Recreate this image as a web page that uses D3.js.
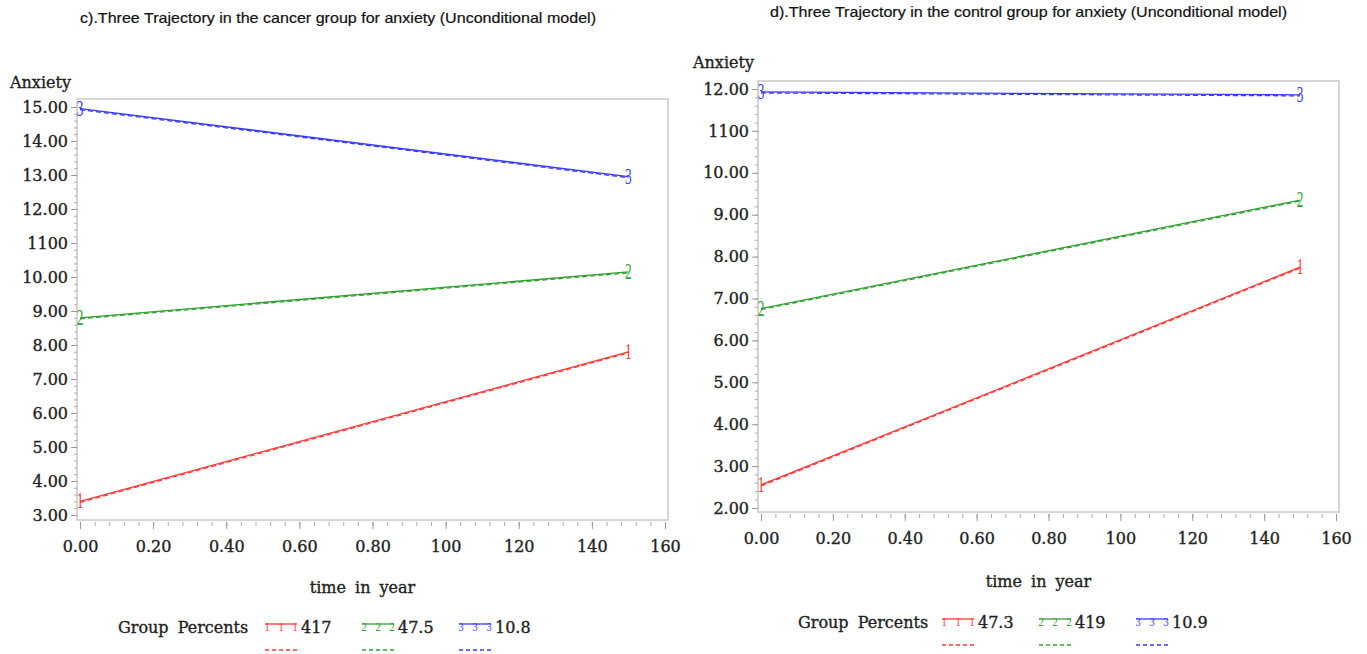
<!DOCTYPE html>
<html>
<head>
<meta charset="utf-8">
<script src="https://cdn.jsdelivr.net/npm/d3@7"></script>
<style>
  body { margin: 0; background: #fff; }
  svg { display: block; }
  .tick text, .SerifText { font-family: "DejaVu Serif", serif; fill: #222; stroke: #222; stroke-width: 0.35px; }
</style>
</head>
<body>
<div id="chart"></div>
<script>
// data
var timePoints = [0, 1.5];
var groupNames = ["1", "2", "3"];
var groupColors = ["#ff3838", "#33a033", "#3a3aff"];

var cancerGroup1 = [3.40, 7.80];
var cancerGroup2 = [8.80, 10.15];
var cancerGroup3 = [14.95, 12.95];
var cancerPercents = ["417", "47.5", "10.8"];

var controlGroup1 = [2.55, 7.75];
var controlGroup2 = [6.76, 9.35];
var controlGroup3 = [11.93, 11.86];
var controlPercents = ["47.3", "419", "10.9"];

var xTickValues = [0, 0.2, 0.4, 0.6, 0.8, 1.0, 1.2, 1.4, 1.6];
var xTickLabels = ["0.00", "0.20", "0.40", "0.60", "0.80", "100", "120", "140", "160"];

var cancerYTicks = [3, 4, 5, 6, 7, 8, 9, 10, 11, 12, 13, 14, 15];
var cancerYLabels = ["3.00", "4.00", "5.00", "6.00", "7.00", "8.00", "9.00", "10.00", "1100", "12.00", "13.00", "14.00", "15.00"];
var controlYTicks = [2, 3, 4, 5, 6, 7, 8, 9, 10, 11, 12];
var controlYLabels = ["2.00", "3.00", "4.00", "5.00", "6.00", "7.00", "8.00", "9.00", "10.00", "1100", "12.00"];

var width = 1367;
var height = 654;

var svgContainer = d3.select("#chart")
    .append("svg")
    .attr("width", width)
    .attr("height", height);

function DrawPanel(p) {
    var g = svgContainer.append("g");

    var x = d3.scaleLinear().domain([0, 1.6]).range([p.x0, p.x1]);
    var y = d3.scaleLinear().domain(p.yDomain).range([p.y0, p.y1]);

    // title
    g.append("text")
        .text(p.title)
        .attr("x", p.titleX)
        .attr("y", p.titleY)
        .attr("textLength", p.titleW)
        .attr("lengthAdjust", "spacingAndGlyphs")
        .style("font-family", "'Liberation Sans Narrow', 'Liberation Sans', sans-serif")
        .style("font-size", "15px")
        .style("fill", "#111")
        .style("stroke", "#111")
        .style("stroke-width", "0.2px");

    // frame
    g.append("rect")
        .attr("x", p.frame[0])
        .attr("y", p.frame[1])
        .attr("width", p.frame[2] - p.frame[0])
        .attr("height", p.frame[3] - p.frame[1])
        .attr("fill", "none")
        .attr("stroke", "#c8c8c8")
        .attr("stroke-width", 1.5);

    // y axis, minor then major
    var minorY = d3.range(p.yDomain[0], p.yDomain[1] + 0.001, 0.2);
    g.append("g")
        .attr("transform", "translate(" + p.frame[0] + ",0)")
        .call(d3.axisLeft(y).tickValues(minorY).tickSize(3).tickFormat(""))
        .call(function (a) { a.select(".domain").remove(); })
        .selectAll("line").attr("stroke", "#aab");

    g.append("g")
        .attr("transform", "translate(" + p.frame[0] + ",0)")
        .call(d3.axisLeft(y).tickValues(p.yTicks).tickSize(6).tickPadding(3)
            .tickFormat(function (d, i) { return p.yLabels[i]; }))
        .call(function (a) { a.select(".domain").remove(); })
        .call(function (a) {
            a.selectAll("line").attr("stroke", "#999");
            a.selectAll("text").style("font-size", "16px");
        });

    // x axis
    var minorX = d3.range(0, 1.6001, 0.04);
    g.append("g")
        .attr("transform", "translate(0," + (p.frame[3] + 2) + ")")
        .call(d3.axisBottom(x).tickValues(minorX).tickSize(4).tickFormat(""))
        .call(function (a) { a.select(".domain").remove(); })
        .selectAll("line").attr("stroke", "#aab");

    g.append("g")
        .attr("transform", "translate(0," + (p.frame[3] + 2) + ")")
        .call(d3.axisBottom(x).tickValues(xTickValues).tickSize(7).tickPadding(12)
            .tickFormat(function (d, i) { return xTickLabels[i]; }))
        .call(function (a) { a.select(".domain").remove(); })
        .call(function (a) {
            a.selectAll("line").attr("stroke", "#999");
            a.selectAll("text").style("font-size", "16px");
        });

    // axis titles
    g.append("text")
        .attr("class", "SerifText")
        .text("Anxiety")
        .attr("x", p.yTitleX)
        .attr("y", p.yTitleY)
        .style("font-size", "16px");

    g.append("text")
        .attr("class", "SerifText")
        .text("time in year")
        .attr("x", (p.x0 + p.x1) / 2 - 10)
        .attr("y", p.xTitleY)
        .attr("text-anchor", "middle")
        .attr("word-spacing", "4")
        .style("font-size", "16px");

    // trajectories
    var line = d3.line()
        .x(function (d, i) { return x(timePoints[i]); })
        .y(function (d) { return y(d); });

    var series = g.selectAll(".Series")
        .data(p.series)
        .enter()
        .append("g")
        .attr("class", "Series");

    series.append("path")
        .attr("d", function (d) { return line(d); })
        .attr("fill", "none")
        .attr("stroke", function (d, i) { return groupColors[i]; })
        .attr("stroke-width", 1.3);

    series.append("path")
        .attr("d", function (d) { return line(d); })
        .attr("fill", "none")
        .attr("stroke", function (d, i) { return groupColors[i]; })
        .attr("stroke-width", 1.3)
        .attr("stroke-dasharray", "5,3")
        .attr("transform", "translate(0,1)");

    series.selectAll(".Marker")
        .data(function (d, i) {
            return d.map(function (v, j) { return { v: v, t: timePoints[j], k: i }; });
        })
        .enter()
        .append("text")
        .attr("class", "Marker")
        .text(function (d) { return groupNames[d.k]; })
        .attr("transform", function (d) {
            return "translate(" + x(d.t) + "," + (y(d.v) + 7) + ") scale(0.7,1.25)";
        })
        .attr("text-anchor", "middle")
        .style("font-family", "'Liberation Serif', serif")
        .style("font-size", "19px")
        .style("fill", function (d) { return groupColors[d.k]; });

    // legend
    var legend = g.append("g");
    legend.append("text")
        .attr("class", "SerifText")
        .text("Group Percents")
        .attr("x", p.legendX)
        .attr("y", p.legendY + 6)
        .attr("word-spacing", "4")
        .style("font-size", "16px");

    var items = legend.selectAll(".LegendItem")
        .data(p.percents)
        .enter()
        .append("g")
        .attr("class", "LegendItem")
        .attr("transform", function (d, i) {
            return "translate(" + (p.legendItemX + i * p.legendStep) + "," + p.legendY + ")";
        });

    items.append("line")
        .attr("x1", 0).attr("x2", 32)
        .attr("y1", -3).attr("y2", -3)
        .attr("stroke", function (d, i) { return groupColors[i]; })
        .attr("stroke-width", 1.3);

    items.selectAll(".LegendMark")
        .data(function (d, i) { return [2, 16, 30].map(function (o) { return { o: o, k: i }; }); })
        .enter()
        .append("text")
        .attr("class", "LegendMark")
        .text(function (d) { return groupNames[d.k]; })
        .attr("transform", function (d) { return "translate(" + d.o + ",4) scale(0.8,1)"; })
        .attr("text-anchor", "middle")
        .style("font-family", "'Liberation Serif', serif")
        .style("font-size", "13px")
        .style("fill", function (d) { return groupColors[d.k]; });

    items.append("line")
        .attr("x1", 0).attr("x2", 32)
        .attr("y1", 23).attr("y2", 23)
        .attr("stroke", function (d, i) { return groupColors[i]; })
        .attr("stroke-width", 1.3)
        .attr("stroke-dasharray", "4,3");

    items.append("text")
        .attr("class", "SerifText")
        .text(function (d) { return d; })
        .attr("x", 36)
        .attr("y", 6)
        .style("font-size", "16px");
}

DrawPanel({
    title: "c).Three Trajectory in the cancer  group for  anxiety (Unconditional model)",
    titleX: 80, titleY: 23, titleW: 516,
    x0: 80, x1: 665,
    yDomain: [3, 15], y0: 515, y1: 107,
    frame: [77, 99, 668, 520],
    yTicks: cancerYTicks, yLabels: cancerYLabels,
    yTitleX: 10, yTitleY: 88,
    xTitleY: 593,
    series: [cancerGroup1, cancerGroup2, cancerGroup3],
    percents: cancerPercents,
    legendX: 118, legendY: 627, legendItemX: 265, legendStep: 97
});

DrawPanel({
    title: "d).Three Trajectory in the  control group  for  anxiety (Unconditional model)",
    titleX: 770, titleY: 17, titleW: 517,
    x0: 761, x1: 1336,
    yDomain: [2, 12], y0: 508, y1: 89,
    frame: [758, 81, 1339, 512],
    yTicks: controlYTicks, yLabels: controlYLabels,
    yTitleX: 693, yTitleY: 68,
    xTitleY: 587,
    series: [controlGroup1, controlGroup2, controlGroup3],
    percents: controlPercents,
    legendX: 798, legendY: 622, legendItemX: 942, legendStep: 97
});
</script>
</body>
</html>
